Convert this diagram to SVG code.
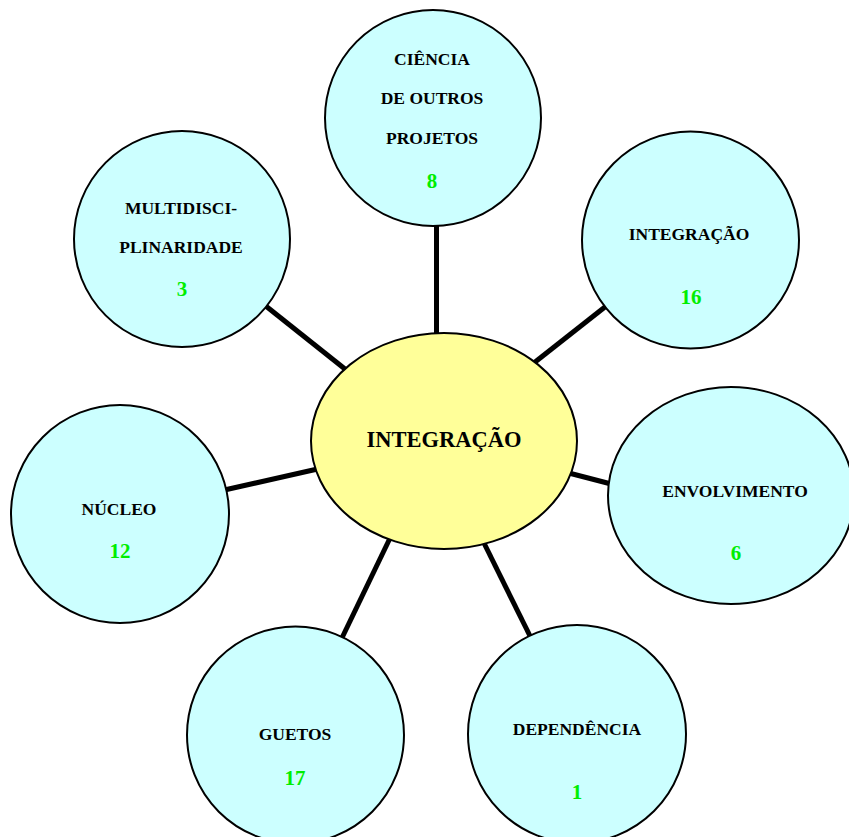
<svg xmlns="http://www.w3.org/2000/svg" width="849" height="837" viewBox="0 0 849 837">
  <style>
    .spoke { stroke: #000; stroke-width: 5; stroke-linecap: butt; }
    .outer { fill: #CCFFFF; stroke: #000; stroke-width: 2; }
    .hub { fill: #FFFF99; stroke: #000; stroke-width: 2; }
    .label { font-family: "Liberation Serif", "Times New Roman", serif; font-weight: bold; font-size: 17.5px; fill: #000; text-anchor: middle; }
    .count { font-family: "Liberation Serif", "Times New Roman", serif; font-weight: bold; font-size: 21px; fill: #00EE00; text-anchor: middle; }
    .title { font-family: "Liberation Serif", "Times New Roman", serif; font-weight: bold; font-size: 22.5px; fill: #000; text-anchor: middle; }
  </style>
  <rect width="849" height="837" fill="#fff"/>

  <!-- spokes from the hub to each outer circle -->
  <g id="connectors">
    <line class="spoke" x1="436.5" y1="220" x2="436.5" y2="340"/>
    <line class="spoke" x1="262" y1="303" x2="350" y2="373"/>
    <line class="spoke" x1="610" y1="303" x2="530" y2="366"/>
    <line class="spoke" x1="565" y1="472" x2="615" y2="485"/>
    <line class="spoke" x1="220" y1="491" x2="322" y2="468"/>
    <line class="spoke" x1="340" y1="642" x2="392" y2="534"/>
    <line class="spoke" x1="482" y1="539" x2="533" y2="642"/>
  </g>

  <g id="hub">
    <ellipse class="hub" cx="444" cy="441" rx="133" ry="108"/>
    <text class="title" x="444" y="447">INTEGRAÇÃO</text>
  </g>

  <g id="ciencia">
    <circle class="outer" cx="433" cy="118" r="108"/>
    <text class="label" x="432" y="65">CIÊNCIA</text>
    <text class="label" x="432" y="104">DE OUTROS</text>
    <text class="label" x="432" y="144">PROJETOS</text>
    <text class="count" x="432" y="188">8</text>
  </g>

  <g id="multidisciplinaridade">
    <circle class="outer" cx="182" cy="239" r="108"/>
    <text class="label" x="181" y="214">MULTIDISCI-</text>
    <text class="label" x="181" y="253">PLINARIDADE</text>
    <text class="count" x="182" y="296">3</text>
  </g>

  <g id="integracao">
    <circle class="outer" cx="690.5" cy="240" r="108.5"/>
    <text class="label" x="689" y="240">INTEGRAÇÃO</text>
    <text class="count" x="691" y="304">16</text>
  </g>

  <g id="envolvimento">
    <ellipse class="outer" cx="731" cy="495.5" rx="123" ry="108.5"/>
    <text class="label" x="735" y="497">ENVOLVIMENTO</text>
    <text class="count" x="736" y="560">6</text>
  </g>

  <g id="nucleo">
    <circle class="outer" cx="120" cy="514" r="109"/>
    <text class="label" x="119" y="515">NÚCLEO</text>
    <text class="count" x="120" y="558">12</text>
  </g>

  <g id="guetos">
    <circle class="outer" cx="295.5" cy="735" r="108.5"/>
    <text class="label" x="295" y="740">GUETOS</text>
    <text class="count" x="295" y="785">17</text>
  </g>

  <g id="dependencia">
    <circle class="outer" cx="577" cy="734" r="109"/>
    <text class="label" x="577" y="735">DEPENDÊNCIA</text>
    <text class="count" x="577" y="799">1</text>
  </g>
</svg>
